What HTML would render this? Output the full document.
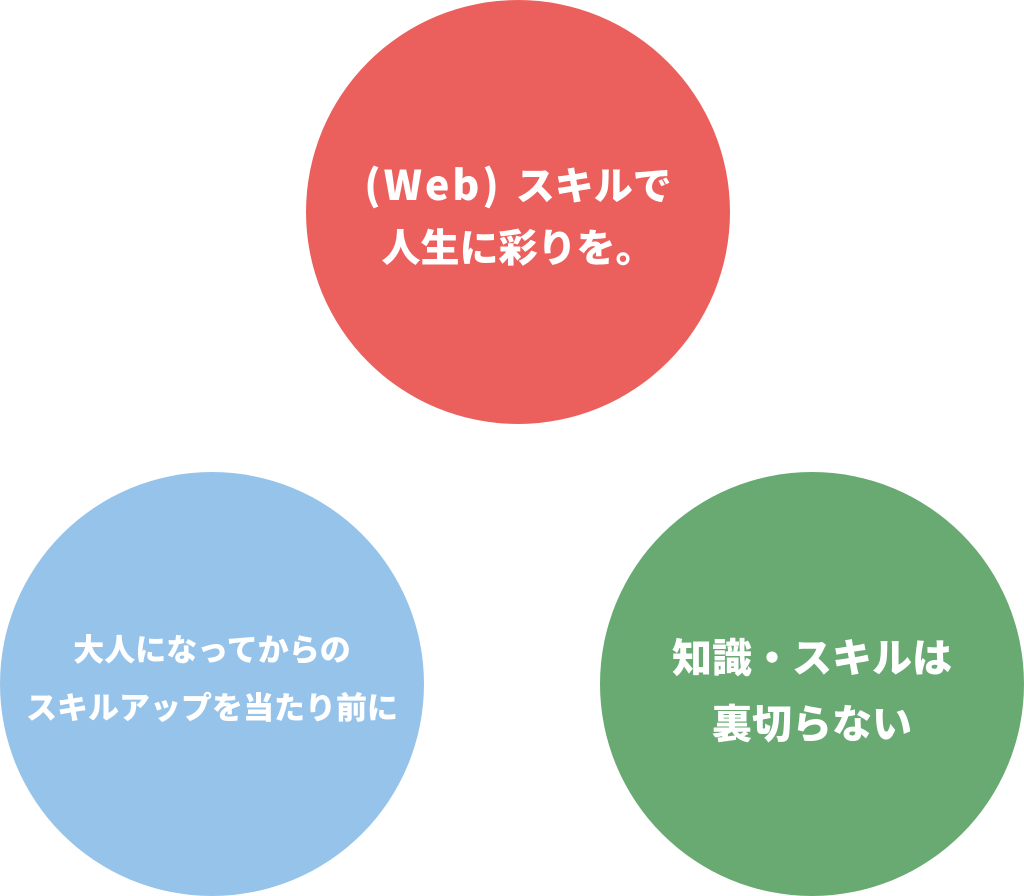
<!DOCTYPE html>
<html><head><meta charset="utf-8"><style>
html,body{margin:0;padding:0;background:#fff;}
body{width:1024px;height:896px;position:relative;overflow:hidden;font-family:"Noto Sans CJK JP","Liberation Sans",sans-serif;font-weight:900;color:#fff;}
.c{position:absolute;width:424px;height:424px;border-radius:50%;}
.t{position:absolute;left:0;width:100%;text-align:center;white-space:nowrap;}
</style></head><body>
<div class="c" style="left:306px;top:0;background:#EB605C;">
 <div class="t" style="top:151px;font-size:39px;line-height:62px;"><span style="letter-spacing:3px;font-size:41px">(Web)</span><span style="display:inline-block;width:14px"></span>スキルで<br>人生に彩りを。</div>
</div>
<div class="c" style="left:0;top:472px;background:#96C3EA;">
 <div class="t" style="top:147px;font-size:31px;line-height:58px;">大人になってからの<br>スキルアップを当たり前に</div>
</div>
<div class="c" style="left:600px;top:472px;background:#68AA72;">
 <div class="t" style="top:150px;font-size:40px;line-height:66px;">知識・スキルは<br>裏切らない</div>
</div>
</body></html>
